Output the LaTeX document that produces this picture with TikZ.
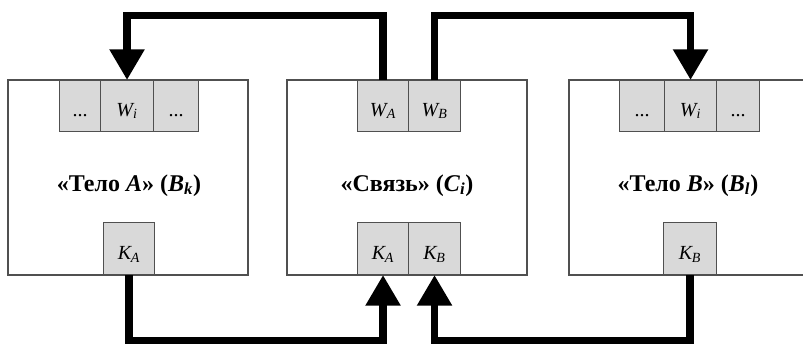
\documentclass[tikz,border=0pt]{standalone}
\usepackage{fontspec}
\setmainfont{Liberation Serif}
\usetikzlibrary{arrows.meta,calc}
\definecolor{portfill}{RGB}{217,217,217}
\definecolor{edgecol}{RGB}{80,80,80}
\newcommand{\portlbl}[2]{\textit{#1}\kern-1pt\textsubscript{\textit{#2}}}
\tikzset{
  box/.style={draw=edgecol, line width=0.8pt, fill=white, minimum width=180pt, minimum height=146.25pt, inner sep=0pt},
  porttop/.style={draw=edgecol, line width=0.8pt, fill=portfill, minimum height=38.25pt, inner sep=0pt, anchor=north west, text height=15pt, text depth=0pt, font=\fontsize{15}{17}\selectfont},
  portbot/.style={draw=edgecol, line width=0.8pt, fill=portfill, minimum height=39pt, inner sep=0pt, anchor=south west, text height=16pt, text depth=0pt, font=\fontsize{15}{17}\selectfont},
  titlelbl/.style={font=\fontsize{18}{21}\selectfont\bfseries, inner sep=0pt, anchor=base},
  conn/.style={line width=5.6pt, line join=miter, -{Triangle[length=23pt,width=25pt]}},
}
\begin{document}
\begin{tikzpicture}[x=0.75pt, y=-0.75pt]
  \useasboundingbox (0,0) rectangle (803,344);
  \clip (0,0) rectangle (803,344);
  \coordinate (topY) at (0,15.5);
  \coordinate (botY) at (0,340.5);
  % boxes
  \node[box] (boxA) at (128,177.5) {};
  \node[box] (boxC) at (407,177.5) {};
  \node[box] (boxB) at (689,177.5) {};
  % left box ports
  \node[porttop, minimum width=30.75pt] (lD1) at (59,80) {...};
  \node[porttop, minimum width=39.75pt] (lWi) at (100,80) {\portlbl{W}{i}};
  \node[porttop, minimum width=33.75pt] (lD2) at (153,80) {...};
  \node[portbot, minimum width=38.25pt] (lKA) at (103,275) {\portlbl{K}{A}};
  % middle box ports
  \node[porttop, minimum width=38.25pt] (mWA) at (357,80) {\portlbl{W}{A}};
  \node[porttop, minimum width=39pt] (mWB) at (408,80) {\portlbl{W}{B}};
  \node[portbot, minimum width=38.25pt] (mKA) at (357,275) {\portlbl{K}{A}};
  \node[portbot, minimum width=39pt] (mKB) at (408,275) {\portlbl{K}{B}};
  % right box ports
  \node[porttop, minimum width=33.75pt] (rD1) at (619,80) {...};
  \node[porttop, minimum width=39pt] (rWi) at (664,80) {\portlbl{W}{i}};
  \node[porttop, minimum width=32.25pt] (rD2) at (716,80) {...};
  \node[portbot, minimum width=39.75pt] (rKB) at (663,275) {\portlbl{K}{B}};
  % titles
  \node[titlelbl] (tA) at (129,191) {«Тело \textit{A}» (\textit{B}\textsubscript{\textit{k}})};
  \node[titlelbl] (tC) at (407,191) {«Связь» (\textit{C}\textsubscript{\textit{i}})};
  \node[titlelbl] (tB) at (688,191) {«Тело \textit{B}» (\textit{B}\textsubscript{\textit{l}})};
  % connectors
  \draw[conn] (mWA.north) -- (mWA.north |- topY) -- (lWi.north |- topY) -- (lWi.north);
  \draw[conn] (mWB.north) -- (mWB.north |- topY) -- (rWi.north |- topY) -- (rWi.north);
  \draw[conn] (lKA.south) -- (lKA.south |- botY) -- (mKA.south |- botY) -- (mKA.south);
  \draw[conn] (rKB.south) -- (rKB.south |- botY) -- (mKB.south |- botY) -- (mKB.south);
\end{tikzpicture}
\end{document}
